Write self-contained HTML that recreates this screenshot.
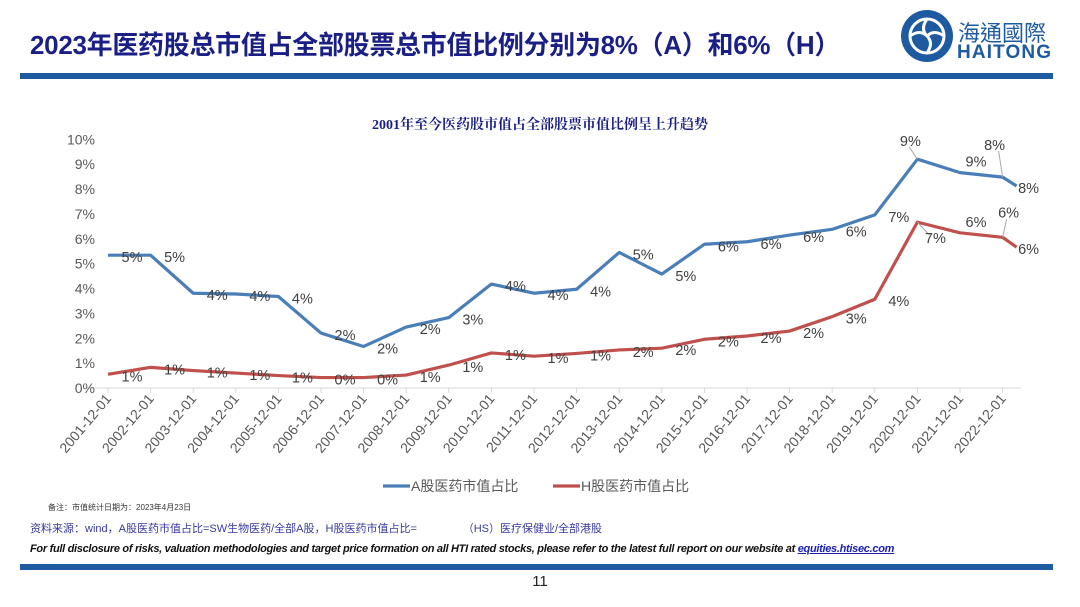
<!DOCTYPE html>
<html><head><meta charset="utf-8">
<style>
body{margin:0;width:1080px;height:607px;background:#fff;position:relative;overflow:hidden;font-family:"Liberation Sans","Noto Sans CJK SC",sans-serif;}
.abs{position:absolute;white-space:nowrap;}
</style></head><body>
<div class="abs" style="left:30px;top:25px;font-size:26px;font-weight:bold;color:#1a1f86;letter-spacing:-0.3px;">2023年医药股总市值占全部股票总市值比例分别为8%（A）和6%（H）</div>
<svg class="abs" style="left:898px;top:6px" width="170" height="60">
<circle cx="29" cy="30" r="26" fill="#1e5aa0"/>
<circle cx="29" cy="30" r="17" fill="none" stroke="#fff" stroke-width="3"/>
<path d="M29 13 Q22 23 29 30 Q36 37 29 47 M12 30 Q22 23 29 30 Q36 23 46 30" fill="none" stroke="#fff" stroke-width="3"/>
<text x="60" y="35" font-size="22" fill="#1e5aa0" font-family="Liberation Sans,Noto Sans CJK TC,sans-serif">海通國際</text>
<text x="59" y="52" font-size="19" font-weight="bold" fill="#1e5aa0" font-family="Liberation Sans,sans-serif" textLength="94">HAITONG</text>
</svg>
<div class="abs" style="left:20px;top:73px;width:1033px;height:6px;background:#1e5aa0"></div>
<div class="abs" style="left:0;width:1080px;text-align:center;top:114px;font-size:14px;font-weight:bold;color:#1a1f86;font-family:'Liberation Serif','Noto Serif CJK SC',serif">2001年至今医药股市值占全部股票市值比例呈上升趋势</div>
<svg id="chart" class="abs" style="left:0;top:0" width="1080" height="500"></svg>
<div class="abs" style="left:48px;top:502px;font-size:8px;color:#333">备注：市值统计日期为：2023年4月23日</div>
<div class="abs" style="left:30px;top:520px;font-size:11px;color:#3a3aa0">资料来源：wind，A股医药市值占比=SW生物医药/全部A股，H股医药市值占比=&nbsp;&nbsp;&nbsp;&nbsp;&nbsp;&nbsp;&nbsp;&nbsp;&nbsp;&nbsp;&nbsp;&nbsp;&nbsp;&nbsp;&nbsp;（HS）医疗保健业/全部港股</div>
<div class="abs" style="left:30px;top:543px;font-size:11px;font-weight:bold;font-style:italic;color:#111;letter-spacing:-0.3px">For full disclosure of risks, valuation methodologies and target price formation on all HTI rated stocks, please refer to the latest full report on our website at <span style="color:#1a1fb0;text-decoration:underline">equities.htisec.com</span></div>
<div class="abs" style="left:20px;top:564px;width:1033px;height:6px;background:#1e5aa0"></div>
<div class="abs" style="left:0;width:1080px;text-align:center;top:573px;font-size:15px;color:#222">11</div>
<script>
const categories=["2001-12-01","2002-12-01","2003-12-01","2004-12-01","2005-12-01","2006-12-01","2007-12-01","2008-12-01","2009-12-01","2010-12-01","2011-12-01","2012-12-01","2013-12-01","2014-12-01","2015-12-01","2016-12-01","2017-12-01","2018-12-01","2019-12-01","2020-12-01","2021-12-01","2022-12-01","2023-04-23"];
const seriesA=[5.34,5.34,3.81,3.78,3.68,2.21,1.67,2.45,2.83,4.18,3.81,3.97,5.45,4.58,5.78,5.88,6.15,6.38,6.96,9.2,8.66,8.48,8.12];
const seriesH=[0.55,0.83,0.7,0.6,0.5,0.42,0.42,0.52,0.92,1.41,1.28,1.39,1.53,1.6,1.96,2.09,2.29,2.87,3.57,6.67,6.24,6.06,5.66];
const yTicks=[0,1,2,3,4,5,6,7,8,9,10];
const NS="http://www.w3.org/2000/svg";
const svg=document.getElementById('chart');
const x0=108,step=42.6,y0=388,yTop=139.3;
function xs(i){return i<22?x0+i*step:x0+21*step+14;}
function ys(v){return y0-(v/10)*(y0-yTop);}
function mk(t,a){const e=document.createElementNS(NS,t);for(const k in a)e.setAttribute(k,a[k]);svg.appendChild(e);return e;}
let ax=mk('line',{x1:87,x2:1021,y1:y0,y2:y0,stroke:'#d9d9d9','stroke-width':1});


yTicks.forEach(v=>{
 const t=mk('text',{x:95,y:ys(v)+5,'text-anchor':'end','font-size':14,fill:'#595959'});
 t.textContent=v+'%';
 
 
});
for(let i=0;i<22;i++){
 const x=xs(i);
 const tk=mk('line',{x1:x,x2:x,y1:y0,y2:y0+5,stroke:'#d9d9d9'});
 
 
 const t=mk('text',{x:x+4,y:y0+11,'text-anchor':'end','font-size':14,fill:'#595959',transform:`rotate(-50 ${x+4} ${y0+11})`});
 t.textContent=categories[i];
 
 
}
function drawSeries(data,color,name,special){
 const p=mk('polyline',{points:data.map((v,i)=>xs(i)+','+ys(v)).join(' '),fill:'none',stroke:color,'stroke-width':3.2,'stroke-linejoin':'round'});
 
 
 data.forEach((v,i)=>{
  let x=xs(i),y=ys(v),lx=x+24,ly=y+7;
  if(i===22){lx=x+12;}
  if(i===20){lx=x+16;ly=y-6;}
  const s=special[i];
  if(s){lx=x+s[0];ly=y+s[1];
   const ln=mk('line',{x1:x,y1:y,x2:x+s[2],y2:y+s[3],stroke:'#a6a6a6'});
   
   }
  const t=mk('text',{x:lx,y:ly,'text-anchor':'middle','font-size':14.5,fill:'#404040'});
  t.textContent=Math.round(v)+'%';
  
  
 });
}
drawSeries(seriesA,'#4a7eb8','series-a',{19:[-7,-13,-8,-12],21:[-8,-27,-4,-26]});
drawSeries(seriesH,'#c0504d','series-h',{19:[18,21,12,13],21:[6,-20,4,-18]});
[[383,'#4a7eb8','A股医药市值占比','legend-a'],[553,'#c0504d','H股医药市值占比','legend-h']].forEach(l=>{
 const g=mk('g',{});
 
 
 const ln=document.createElementNS(NS,'line');
 ln.setAttribute('x1',l[0]);ln.setAttribute('x2',l[0]+27);ln.setAttribute('y1',486);ln.setAttribute('y2',486);
 ln.setAttribute('stroke',l[1]);ln.setAttribute('stroke-width',3.2);g.appendChild(ln);
 const t=document.createElementNS(NS,'text');
 t.setAttribute('x',l[0]+28);t.setAttribute('y',491);t.setAttribute('font-size',14);t.setAttribute('fill','#595959');
 t.textContent=l[2];g.appendChild(t);
});
</script>
</body></html>
